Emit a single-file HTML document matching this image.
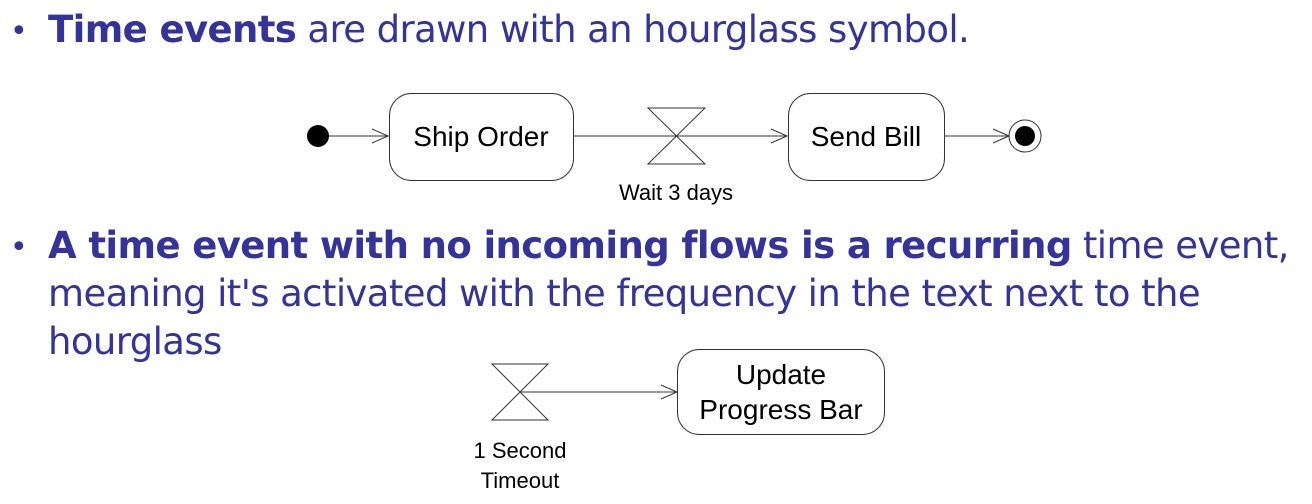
<!DOCTYPE html>
<html><head><meta charset="utf-8"><style>
body{margin:0;width:1312px;height:504px;background:#fff;overflow:hidden;position:relative}
.t{position:absolute;left:0;top:0;font-family:"DejaVu Sans",Verdana,sans-serif;font-size:37px;color:#33339a;white-space:nowrap;letter-spacing:-0.6px}
b{font-weight:bold}
.bl{font-size:30px;top:12px}
</style></head><body>
<div class="t bl" style="left:10px;top:14px">•</div>
<div class="t" style="left:48px;top:8px"><b>Time events</b> are drawn with an hourglass symbol.</div>
<div class="t bl" style="left:10px;top:230px">•</div>
<div class="t" style="left:48px;top:224px"><b>A time event with no incoming flows is a recurring</b> time event,</div>
<div class="t" style="left:48px;top:272px">meaning it's activated with the frequency in the text next to the</div>
<div class="t" style="left:48px;top:320px">hourglass</div>
<svg width="1312" height="504" style="position:absolute;left:0;top:0" font-family="Liberation Sans, Arial, sans-serif">
<g stroke="#333" fill="none" stroke-width="1">
<line x1="318" y1="136" x2="388" y2="136"/><polyline points="372,129 388,136 372,143"/>
<rect x="389.5" y="93.5" width="184" height="87" rx="22"/>
<line x1="573" y1="136" x2="787" y2="136"/><polyline points="771,129 787,136 771,143"/>
<polygon points="648,108 705,108 648,164 705,164"/>
<rect x="788.5" y="93.5" width="156" height="87" rx="22"/>
<line x1="944" y1="136" x2="1009" y2="136"/><polyline points="993,129 1009,136 993,143"/>
<circle cx="1025" cy="136" r="16"/>
<polygon points="492,364 548,364 492,420 548,420"/>
<line x1="520" y1="392" x2="677" y2="392"/><polyline points="661,385 677,392 661,399"/>
<rect x="677.5" y="349.5" width="207" height="85" rx="22"/>
</g>
<circle cx="318" cy="136" r="11" fill="#000"/>
<circle cx="1025" cy="136" r="10" fill="#000"/>
<g font-size="28" fill="#000" text-anchor="middle">
<text x="481" y="146">Ship Order</text>
<text x="866" y="146">Send Bill</text>
<text x="781" y="384">Update</text>
<text x="781" y="419">Progress Bar</text>
</g>
<g font-size="22" fill="#000" text-anchor="middle">
<text x="676" y="200">Wait 3 days</text>
<text x="520" y="458">1 Second</text>
<text x="520" y="488">Timeout</text>
</g>
</svg>
</body></html>
